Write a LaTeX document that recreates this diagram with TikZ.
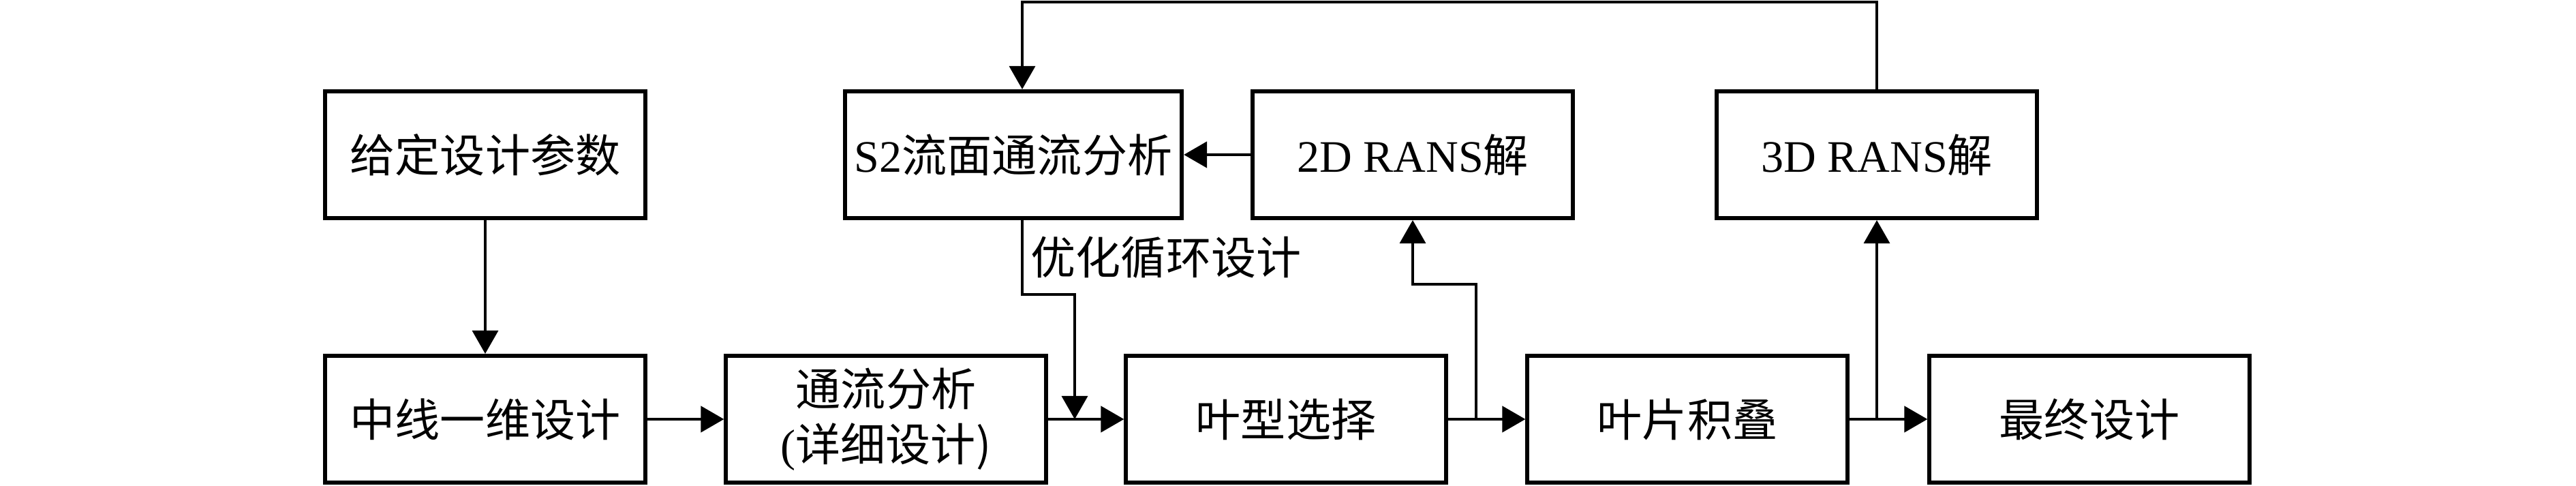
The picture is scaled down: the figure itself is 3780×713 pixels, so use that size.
\documentclass[tikz,border=0pt]{standalone}
\usepackage{fontspec}
\setmainfont{Liberation Serif}
\newfontfamily\cjk{Noto Sans CJK SC}
\usetikzlibrary{arrows.meta,calc}
\begin{document}
\begin{tikzpicture}[x=0.01cm,y=-0.01cm,
  box/.style={draw,line width=1.7pt,minimum width=4.69cm,minimum height=1.86cm,
    inner sep=0pt,align=center,font=\fontsize{18.8}{23}\selectfont},
  widebox/.style={box,minimum width=4.94cm},
  lbl/.style={inner sep=0pt,font=\fontsize{18.8}{23}\selectfont},
  conn/.style={line width=0.95pt,-{Triangle[length=0.34cm,width=0.38cm]}},
  mainconn/.style={conn,line width=1.3pt}]
\useasboundingbox (0,0) rectangle (3780,713);
% top row
\node[box] (give) at (712,227) {\cjk{给定设计参数}};
\node[widebox] (s2) at (1487,227) {S2\cjk{流面通流分析}};
\node[box] (r2d) at (2073,227) {2D RANS\cjk{解}};
\node[box] (r3d) at (2754,227) {3D RANS\cjk{解}};
% bottom row
\node[box] (mid) at (712,615) {\cjk{中线一维设计}};
\node[box] (tf) at (1300,615) {\cjk{通流分析}\\(\cjk{详细设计})};
\node[box] (blade) at (1887,615) {\cjk{叶型选择}};
\node[box] (stack) at (2476,615) {\cjk{叶片积叠}};
\node[box] (final) at (3066,615) {\cjk{最终设计}};
% label
\node[lbl,anchor=west] (lab) at (1512,378) {\cjk{优化循环设计}};
% helper coordinates
\coordinate (t1) at (1500,0);
\coordinate (m1) at (1577,615);
\coordinate (c2) at (2166,615);
\coordinate (c3) at (2754,615);
% main flow
\draw[conn] (give) -- (mid);
\draw[mainconn] (mid) -- (tf);
\draw[mainconn] (tf) -- (blade);
\draw[mainconn] (blade) -- (stack);
\draw[mainconn] (stack) -- (final);
\draw[mainconn] (r2d) -- (s2);
% branches
\draw[conn] (s2.south -| t1) |- (1577,432) -- (m1);
\draw[conn] (c2) -- (2166,417) -| (r2d.south);
\draw[conn] (c3) -- (r3d.south);
\draw[conn] (r3d.north) -- (2754,3) -| (s2.north -| t1);
\end{tikzpicture}
\end{document}
